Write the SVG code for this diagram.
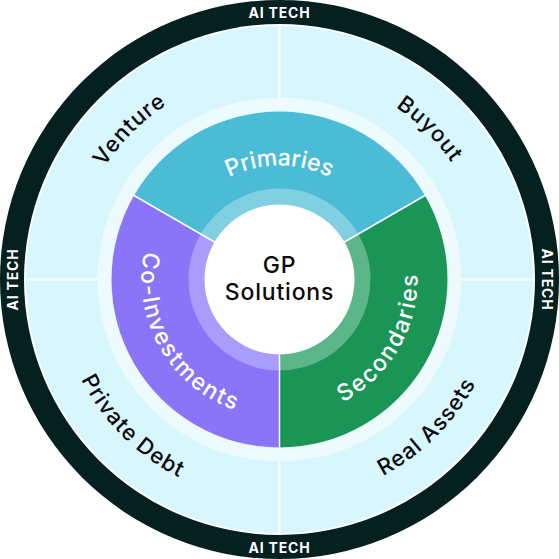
<svg xmlns="http://www.w3.org/2000/svg" width="559" height="559" viewBox="0 0 559 559">
<style>
.f{font-family:"Inter","Liberation Sans",sans-serif}
.ai{font-family:"Inter","Liberation Sans",sans-serif;font-weight:700;font-size:14px;fill:#ffffff;text-anchor:middle;letter-spacing:0.8px}
.outer{font-family:"Inter","Liberation Sans",sans-serif;font-weight:500;font-size:22px;fill:#0a0a0a;letter-spacing:1px}
.inner{font-family:"Inter","Liberation Sans",sans-serif;font-weight:500;font-size:23px;fill:#ffffff;letter-spacing:0px}
.div{stroke:#ffffff;stroke-width:2;fill:none}
.seg{stroke:none}
</style>
<defs>
<path id="arcTop" d="M-208,0 A208,208 0 0 1 208,0"/>
<path id="arcBot" d="M-222,0 A222,222 0 0 0 222,0"/>
<path id="arcPrim" d="M-114,0 A114,114 0 0 1 114,0"/>
<path id="arcCo" d="M-119.51,-69 A138,138 0 0 0 0,138"/>
<path id="arcSec" d="M0,138 A138,138 0 0 0 119.51,-69"/>
</defs>
<rect width="559" height="559" fill="#ffffff"/>
<g transform="translate(279.5,279.5)">
  <g id="outer-ring">
    <circle r="279.5" fill="#04201f"/>
    <circle r="255.5" fill="#ffffff"/>
    <circle r="253.5" fill="#d7f6fd"/>
  </g>
  <g id="connectors">
    <line class="div" x1="0" y1="-254" x2="0" y2="254"/>
    <line class="div" x1="-254" y1="0" x2="254" y2="0"/>
  </g>
  <circle id="pale-ring" r="182" fill="#edfbfe"/>
  <g id="primaries">
    <path class="seg" d="M0,0 L-145.49,-84 A168,168 0 0 1 145.49,-84 Z" fill="#4bbcd6"/>
    <path class="seg" d="M0,0 L-78.81,-45.5 A91,91 0 0 1 78.81,-45.5 Z" fill="#80d0e2"/>
    <text class="inner"><textPath href="#arcPrim" startOffset="50%" text-anchor="middle">Primaries</textPath></text>
  </g>
  <g id="secondaries">
    <path class="seg" d="M0,0 L145.49,-84 A168,168 0 0 1 0,168 Z" fill="#1b9556"/>
    <path class="seg" d="M0,0 L78.81,-45.5 A91,91 0 0 1 0,91 Z" fill="#5db68a"/>
    <text class="inner" style="letter-spacing:1.8px"><textPath href="#arcSec" startOffset="50%" text-anchor="middle">Secondaries</textPath></text>
  </g>
  <g id="co-investments">
    <path class="seg" d="M0,0 L0,168 A168,168 0 0 1 -145.49,-84 Z" fill="#8a75f8"/>
    <path class="seg" d="M0,0 L0,91 A91,91 0 0 1 -78.81,-45.5 Z" fill="#a99cfa"/>
    <text class="inner" style="letter-spacing:1.8px"><textPath href="#arcCo" startOffset="50%" text-anchor="middle">Co-Investments</textPath></text>
  </g>
  <g id="segment-dividers">
    <line stroke="#ffffff" stroke-width="1.5" x1="0" y1="75" x2="0" y2="168"/>
    <line stroke="#ffffff" stroke-width="1.5" x1="-64.95" y1="-37.5" x2="-145.49" y2="-84"/>
    <line stroke="#ffffff" stroke-width="1.5" x1="64.95" y1="-37.5" x2="145.49" y2="-84"/>
  </g>
  <g id="center">
    <circle r="75" fill="#ffffff"/>
    <text class="f" x="0" y="-6.5" text-anchor="middle" font-size="23" font-weight="500" fill="#0a0a0a" letter-spacing="0.8">GP</text>
    <text class="f" x="0" y="20" text-anchor="middle" font-size="23" font-weight="500" fill="#0a0a0a" letter-spacing="0.8">Solutions</text>
  </g>
  <g id="venture"><text class="outer"><textPath href="#arcTop" startOffset="25%" text-anchor="middle">Venture</textPath></text></g>
  <g id="buyout"><text class="outer"><textPath href="#arcTop" startOffset="75%" text-anchor="middle">Buyout</textPath></text></g>
  <g id="private-debt"><text class="outer"><textPath href="#arcBot" startOffset="25%" text-anchor="middle">Private Debt</textPath></text></g>
  <g id="real-assets"><text class="outer"><textPath href="#arcBot" startOffset="75%" text-anchor="middle">Real Assets</textPath></text></g>
  <g id="ai-tech-labels">
    <text class="ai" x="0" y="-262">AI TECH</text>
    <text class="ai" x="0" y="273">AI TECH</text>
    <text class="ai" transform="translate(-261.5,0) rotate(-90)">AI TECH</text>
    <text class="ai" transform="translate(262,0) rotate(90)">AI TECH</text>
  </g>
</g>
</svg>
